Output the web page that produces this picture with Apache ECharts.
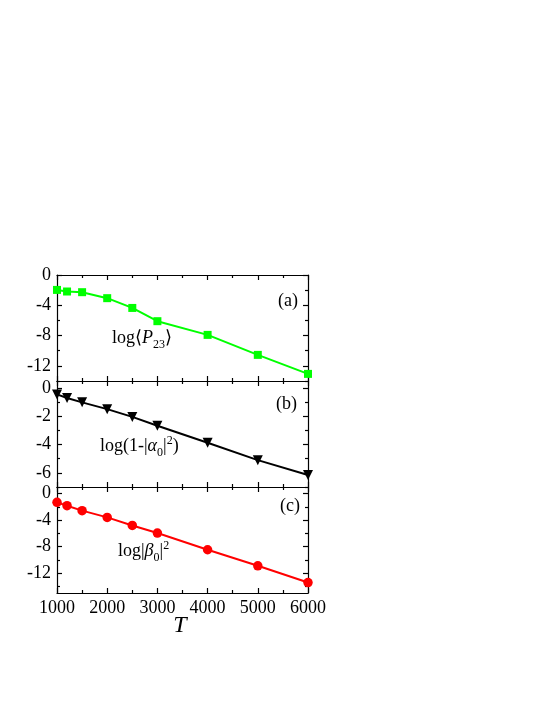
<!DOCTYPE html>
<html>
<head>
<meta charset="utf-8">
<script src="https://cdn.jsdelivr.net/npm/echarts@6/dist/echarts.min.js"></script>
<style>html,body{margin:0;padding:0;background:#fff;}#c{width:553px;height:715px;}</style>
</head>
<body>
<div id="c"></div>
<script>
// ---- data ----
var T = [1000, 1200, 1500, 2000, 2500, 3000, 4000, 5000, 6000];
var logP23 = [-1.97, -2.18, -2.27, -3.06, -4.35, -6.10, -7.91, -10.55, -13.06];
var logAlpha = [-0.45, -0.70, -1.01, -1.49, -2.04, -2.67, -3.87, -5.10, -6.15];
var logBeta = [-1.32, -1.82, -2.57, -3.59, -4.80, -5.95, -8.47, -10.89, -13.42];
var xTicks = [1000, 2000, 3000, 4000, 5000, 6000];
var yRangeA = [-14, 0], yMajorA = [0, -4, -8, -12], yMinorA = [-2, -6, -10, -14];
var yRangeB = [-7, 0.5], yMajorB = [0, -2, -4, -6], yMinorB = [-1, -3, -5, -7];
var yRangeC = [-15, 1], yMajorC = [0, -4, -8, -12], yMinorC = [-2, -6, -10, -14];

var FONT = '"Liberation Serif", "Times New Roman", serif';
var panels = [
  {y: logP23, range: yRangeA, major: yMajorA, minor: yMinorA, color: '#00ff00', symbol: 'rect', size: 8, rot: 0, top: 275},
  {y: logAlpha, range: yRangeB, major: yMajorB, minor: yMinorB, color: '#000000', symbol: 'triangle', size: 10, rot: 180, top: 381},
  {y: logBeta, range: yRangeC, major: yMajorC, minor: yMinorC, color: '#ff0000', symbol: 'circle', size: 9.5, rot: 0, top: 487}
];

var grids = [], xAxes = [], yAxes = [], series = [];
var lineStyle = {color: '#000', width: 1.2};
panels.forEach(function (p, g) {
  grids.push({left: 57, top: p.top, width: 251, height: 106, containLabel: false});
  ['bottom', 'top'].forEach(function (pos) {
    xAxes.push({
      type: 'value', gridIndex: g, position: pos, min: 1000, max: 6000, interval: 1000,
      axisLine: {show: true, onZero: false, lineStyle: lineStyle},
      axisTick: {show: true, inside: true, length: 5, lineStyle: lineStyle},
      minorTick: {show: true, splitNumber: 2, length: 3, lineStyle: lineStyle},
      splitLine: {show: false}, minorSplitLine: {show: false},
      axisLabel: {show: (g === 2 && pos === 'bottom'), customValues: xTicks, margin: 6,
        formatter: function (v) { return String(v); },
        fontFamily: FONT, fontSize: 18, color: '#000'}
    });
  });
  ['left', 'right'].forEach(function (pos) {
    yAxes.push({
      type: 'value', gridIndex: g, position: pos, min: p.range[0], max: p.range[1],
      axisLine: {show: true, onZero: false, lineStyle: lineStyle},
      axisTick: {show: true, inside: true, length: 5, customValues: p.major, lineStyle: lineStyle},
      splitLine: {show: false},
      axisLabel: {show: pos === 'left', customValues: p.major, margin: 6,
        formatter: function (v) { return String(v); },
        fontFamily: FONT, fontSize: 18, color: '#000'}
    });
    yAxes.push({
      type: 'value', gridIndex: g, position: pos, min: p.range[0], max: p.range[1],
      axisLine: {show: false, onZero: false},
      axisTick: {show: true, inside: true, length: 3, customValues: p.minor, lineStyle: lineStyle},
      splitLine: {show: false},
      axisLabel: {show: false}
    });
  });
  series.push({
    type: 'line', xAxisIndex: 2 * g, yAxisIndex: 4 * g,
    data: T.map(function (t, i) { return [t, p.y[i]]; }),
    symbol: p.symbol, symbolSize: p.size, symbolRotate: p.rot, showSymbol: true,
    itemStyle: {color: p.color}, lineStyle: {color: p.color, width: 2},
    animation: false, z: 3
  });
});

var base = {fontFamily: FONT, fontSize: 18, color: '#000', lineHeight: 30, verticalAlign: 'middle'};
function tok(extra) { var o = {}; for (var k in base) o[k] = base[k]; for (var k2 in extra) o[k2] = extra[k2]; return o; }
var rich = {
  n: tok({}),
  i: tok({fontStyle: 'italic'}),
  s: tok({fontSize: 12, lineHeight: 12, padding: [14, 0, 0, 0]}),
  u: tok({fontSize: 12, lineHeight: 12, padding: [0, 0, 10, 0]})
};
function label(x, y, text, align) {
  return {type: 'text', x: x, y: y, z: 10,
    style: {text: text, rich: rich, font: '18px ' + FONT, fill: '#000', align: align || 'left', verticalAlign: 'middle'}};
}

var option = {
  backgroundColor: '#fff',
  animation: false,
  grid: grids, xAxis: xAxes, yAxis: yAxes, series: series,
  graphic: [
    label(112, 338, '{n|log⟨}{i|P}{s|23}{n|⟩}'),
    label(100, 446, '{n|log(1-|}{i|α}{s|0}{n||}{u|2}{n|)}'),
    label(118, 551, '{n|log|}{i|β}{s|0}{n||}{u|2}'),
    label(298, 301.5, '{n|(a)}', 'right'),
    label(297, 404.7, '{n|(b)}', 'right'),
    label(300, 506, '{n|(c)}', 'right'),
    {type: 'text', x: 180, y: 626, z: 10,
      style: {text: 'T', font: 'italic 24px ' + FONT, fill: '#000', align: 'center', verticalAlign: 'middle'}}
  ]
};
var chart = echarts.init(document.getElementById('c'), null, {renderer: 'canvas'});
chart.setOption(option);
</script>
</body>
</html>
